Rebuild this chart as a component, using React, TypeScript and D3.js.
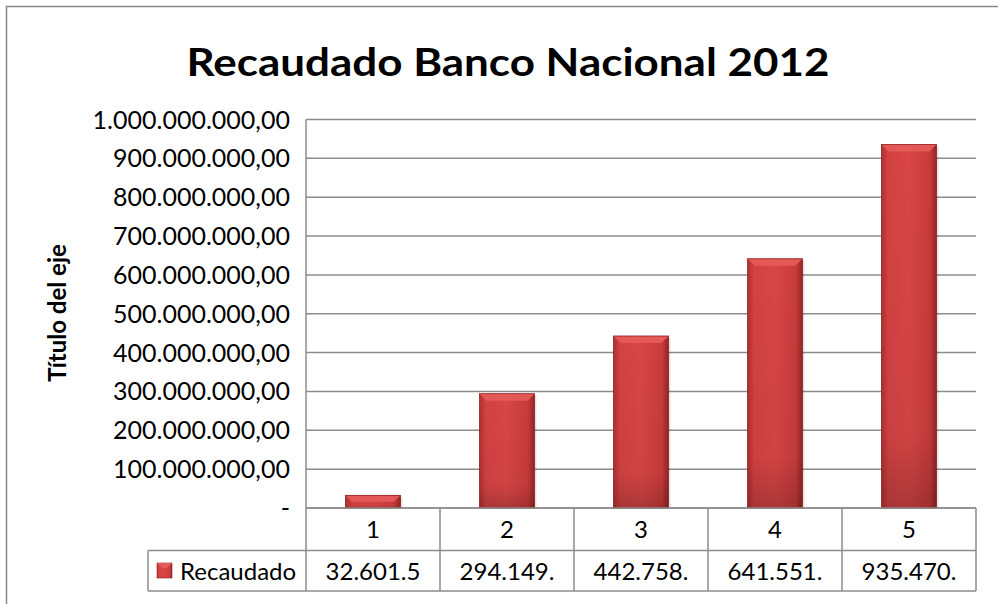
import React from "react";
import * as d3 from "d3";

const categories = ["1", "2", "3", "4", "5"];
const values = [32601500, 294149000, 442758000, 641551000, 935470000];
const tableLabels = ["32.601.5", "294.149.", "442.758.", "641.551.", "935.470."];
const yTicks = [0, 100e6, 200e6, 300e6, 400e6, 500e6, 600e6, 700e6, 800e6, 900e6, 1000e6];
const seriesName = "Recaudado";
const title = "Recaudado Banco Nacional 2012";
const axisTitle = "Título del eje";

const fmtTick = (v: number) => {
  if (v === 0) return "-";
  const s = d3.format(",.2f")(v);
  return s.replace(/,/g, "#").replace(/\./g, ",").replace(/#/g, ".");
};

const W = 998, H = 604;
const left = 306, right = 976, top = 119.5, bottom = 508;
const FONT = "Lato, 'Open Sans', sans-serif";

export default function App() {
  const x = d3.scaleBand<string>().domain(categories).range([left, right]).paddingInner(0).paddingOuter(0);
  const y = d3.scaleLinear().domain([0, 1e9]).range([bottom, top]);
  const bw = 55;
  const tableTop = bottom;
  const row2 = 550.5;
  const tableBottom = 591;
  const legendLeft = 148;
  const grid = "#8c8c8c";

  return (
    <div style={{ position: "absolute", left: 0, top: 0 }}>
      <svg width={W} height={H} style={{ display: "block", background: "#fff" }}>
        <defs>
          <linearGradient id="barG" x1="0" x2="1" y1="0" y2="0">
            <stop offset="0" stopColor="#b03031" />
            <stop offset="0.12" stopColor="#d34243" />
            <stop offset="0.5" stopColor="#d84645" />
            <stop offset="0.88" stopColor="#c83b3c" />
            <stop offset="1" stopColor="#962425" />
          </linearGradient>
          <linearGradient id="vG" x1="0" x2="0" y1="0" y2="1">
            <stop offset="0" stopColor="#000" stopOpacity="0" />
            <stop offset="0.8" stopColor="#000" stopOpacity="0.04" />
            <stop offset="1" stopColor="#000" stopOpacity="0.2" />
          </linearGradient>
        </defs>
        <rect x={6.5} y={6.5} width={W} height={H} fill="#fff" stroke="#888" strokeWidth={1.5} />
        <text x={508} y={76} textAnchor="middle" fontFamily={FONT} fontWeight="bold" fontSize={39}
          textLength={643} lengthAdjust="spacingAndGlyphs" fill="#000">{title}</text>

        {yTicks.map((t) => (
          <line key={t} x1={left} x2={right} y1={y(t)} y2={y(t)} stroke={grid} strokeWidth={1.5} />
        ))}
        <line x1={left} x2={left} y1={top} y2={tableBottom} stroke={grid} strokeWidth={1.5} />

        {yTicks.map((t) => (
          <text key={"l" + t} x={290} y={y(t) + 9} textAnchor="end" fontFamily={FONT} fontSize={25} fill="#000">
            {fmtTick(t)}
          </text>
        ))}
        <text transform={`translate(66,${313}) rotate(-90)`} textAnchor="middle" fontFamily={FONT}
          fontWeight="bold" fontSize={24} fill="#000">{axisTitle}</text>

        {categories.map((c, i) => {
          const cx = (x(c) as number) + x.bandwidth() / 2;
          const x0 = cx - bw / 2;
          const yt = y(values[i]);
          const h = bottom - yt;
          const bev = Math.min(7, h / 2);
          return (
            <g key={c}>
              <rect x={x0 + 2} y={yt + 2} width={bw} height={h - 2} fill="#000" opacity={0.12} />
              <rect x={x0} y={yt} width={bw} height={h} fill="url(#barG)" />
              <rect x={x0} y={yt} width={bw} height={h} fill="url(#vG)" />
              <polygon points={`${x0},${yt} ${x0 + bw},${yt} ${x0 + bw - bev},${yt + bev} ${x0 + bev},${yt + bev}`}
                fill="#e55c5b" opacity={0.9} />
              <rect x={x0} y={yt} width={bw} height={h} fill="none" stroke="#8e2122" strokeWidth={0.8} />
            </g>
          );
        })}

        <line x1={left} x2={right} y1={tableTop} y2={tableTop} stroke={grid} strokeWidth={1.5} />
        <line x1={legendLeft} x2={right} y1={row2} y2={row2} stroke={grid} strokeWidth={1.5} />
        <line x1={legendLeft} x2={right} y1={tableBottom} y2={tableBottom} stroke={grid} strokeWidth={1.5} />
        <line x1={legendLeft} x2={legendLeft} y1={row2} y2={tableBottom} stroke={grid} strokeWidth={1.5} />
        {categories.map((c) => (
          <line key={"v" + c} x1={(x(c) as number) + x.bandwidth()} x2={(x(c) as number) + x.bandwidth()}
            y1={tableTop} y2={tableBottom} stroke={grid} strokeWidth={1.5} />
        ))}
        {categories.map((c, i) => {
          const cx = (x(c) as number) + x.bandwidth() / 2;
          return (
            <g key={"t" + c}>
              <text x={cx} y={tableTop + 30} textAnchor="middle" fontFamily={FONT} fontSize={24} fill="#000">{c}</text>
              <text x={cx} y={row2 + 29} textAnchor="middle" fontFamily={FONT} fontSize={24} fill="#000">{tableLabels[i]}</text>
            </g>
          );
        })}
        <rect x={157} y={563} width={15} height={15} fill="url(#barG)" stroke="#8e2122" strokeWidth={0.6} />
        <polygon points="157,563 172,563 167,568 162,568" fill="#e55c5b" />
        <text x={180} y={row2 + 29} fontFamily={FONT} fontSize={24} fill="#000">{seriesName}</text>
      </svg>
    </div>
  );
}
